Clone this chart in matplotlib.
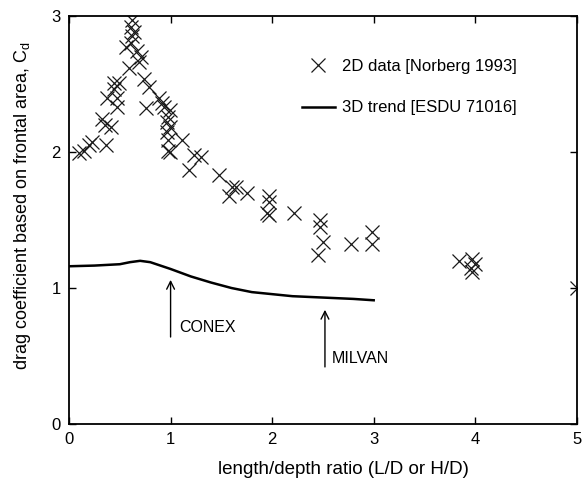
import numpy as np
import matplotlib
matplotlib.use('Agg')
from matplotlib import pyplot as plt

plt.rcParams['font.family'] = ['Liberation Sans', 'DejaVu Sans']

"""2D data [Norberg 1993]"""
norberg_x = [0.10, 0.15, 0.20, 0.23, 0.36, 0.32, 0.35, 0.41, 0.37, 0.44, 0.44, 0.47,
             0.47, 0.49, 0.59, 0.56, 0.61, 0.62, 0.61, 0.62, 0.64, 0.67, 0.71, 0.69,
             0.74, 0.79, 0.76, 0.89, 0.92, 0.94, 0.99, 0.97, 0.96, 0.99, 0.96, 0.97,
             0.97, 0.99, 1.11, 1.23, 1.30, 1.18, 1.48, 1.60, 1.58, 1.75, 1.64, 1.97,
             1.97, 1.95, 1.97, 2.22, 2.47, 2.47, 2.50, 2.45, 2.78, 2.98, 2.98, 3.84,
             3.97, 3.96, 3.97, 4.00, 5.00]
norberg_cd = [1.99, 2.01, 2.05, 2.07, 2.05, 2.24, 2.20, 2.18, 2.40, 2.46, 2.51, 2.40,
              2.33, 2.51, 2.62, 2.77, 2.80, 2.85, 2.92, 2.97, 2.88, 2.74, 2.70, 2.66,
              2.54, 2.48, 2.32, 2.40, 2.36, 2.33, 2.31, 2.26, 2.22, 2.18, 2.15, 2.09,
              2.01, 2.00, 2.09, 1.98, 1.96, 1.87, 1.83, 1.74, 1.68, 1.70, 1.74, 1.68,
              1.63, 1.55, 1.54, 1.55, 1.50, 1.45, 1.34, 1.24, 1.32, 1.41, 1.32, 1.20,
              1.21, 1.15, 1.12, 1.18, 1.00]

"""3D trend [ESDU 71016]"""
esdu_x = [0.0, 0.25, 0.5, 0.6, 0.7, 0.8, 1.0, 1.2, 1.4, 1.6, 1.8, 2.0, 2.2, 2.5, 2.8, 3.0]
esdu_cd = [1.16, 1.165, 1.175, 1.19, 1.20, 1.19, 1.14, 1.085, 1.04, 1.0, 0.97, 0.955,
           0.94, 0.93, 0.92, 0.91]

fig = plt.figure(figsize=(5.85, 4.83), dpi=100)
ax = fig.add_axes([0.118, 0.122, 0.868, 0.845])

ax.plot(norberg_x, norberg_cd, 'x', color='#1a1a1a', markersize=9.5, markeredgewidth=0.9,
        label='2D data [Norberg 1993]')
ax.plot(esdu_x, esdu_cd, '-', color='black', linewidth=1.8, label='3D trend [ESDU 71016]')

arrow = dict(arrowstyle='->', color='black', lw=1.0, mutation_scale=14,
             shrinkA=0, shrinkB=0)
ax.annotate('', xy=(1.0, 1.06), xytext=(1.0, 0.64), arrowprops=arrow)
ax.text(1.09, 0.71, 'CONEX', fontsize=11.5, va='center', ha='left')
ax.annotate('', xy=(2.52, 0.84), xytext=(2.52, 0.42), arrowprops=arrow)
ax.text(2.59, 0.485, 'MILVAN', fontsize=11.5, va='center', ha='left')

ax.set_xlim(0, 5)
ax.set_ylim(0, 3)
ax.set_xticks([0, 1, 2, 3, 4, 5])
ax.set_yticks([0, 1, 2, 3])
ax.tick_params(direction='in', top=True, right=True, length=5, width=1,
               labelsize=12, pad=6)
for s in ax.spines.values():
    s.set_linewidth(1.3)

ax.set_xlabel('length/depth ratio (L/D or H/D)', fontsize=13.5, labelpad=8)
ax.xaxis.set_label_coords(0.54, -0.09)
ax.set_ylabel('drag coefficient based on frontal area, C$_\\mathregular{d}$', fontsize=13,
              labelpad=6)
ax.yaxis.set_label_coords(-0.07, 0.534)

ax.legend(loc='upper left', bbox_to_anchor=(0.458, 0.895), frameon=False, fontsize=12,
          handlelength=2.0, labelspacing=1.6, handletextpad=0.4, borderpad=0,
          borderaxespad=0)

fig.savefig('out.png', dpi=100)
